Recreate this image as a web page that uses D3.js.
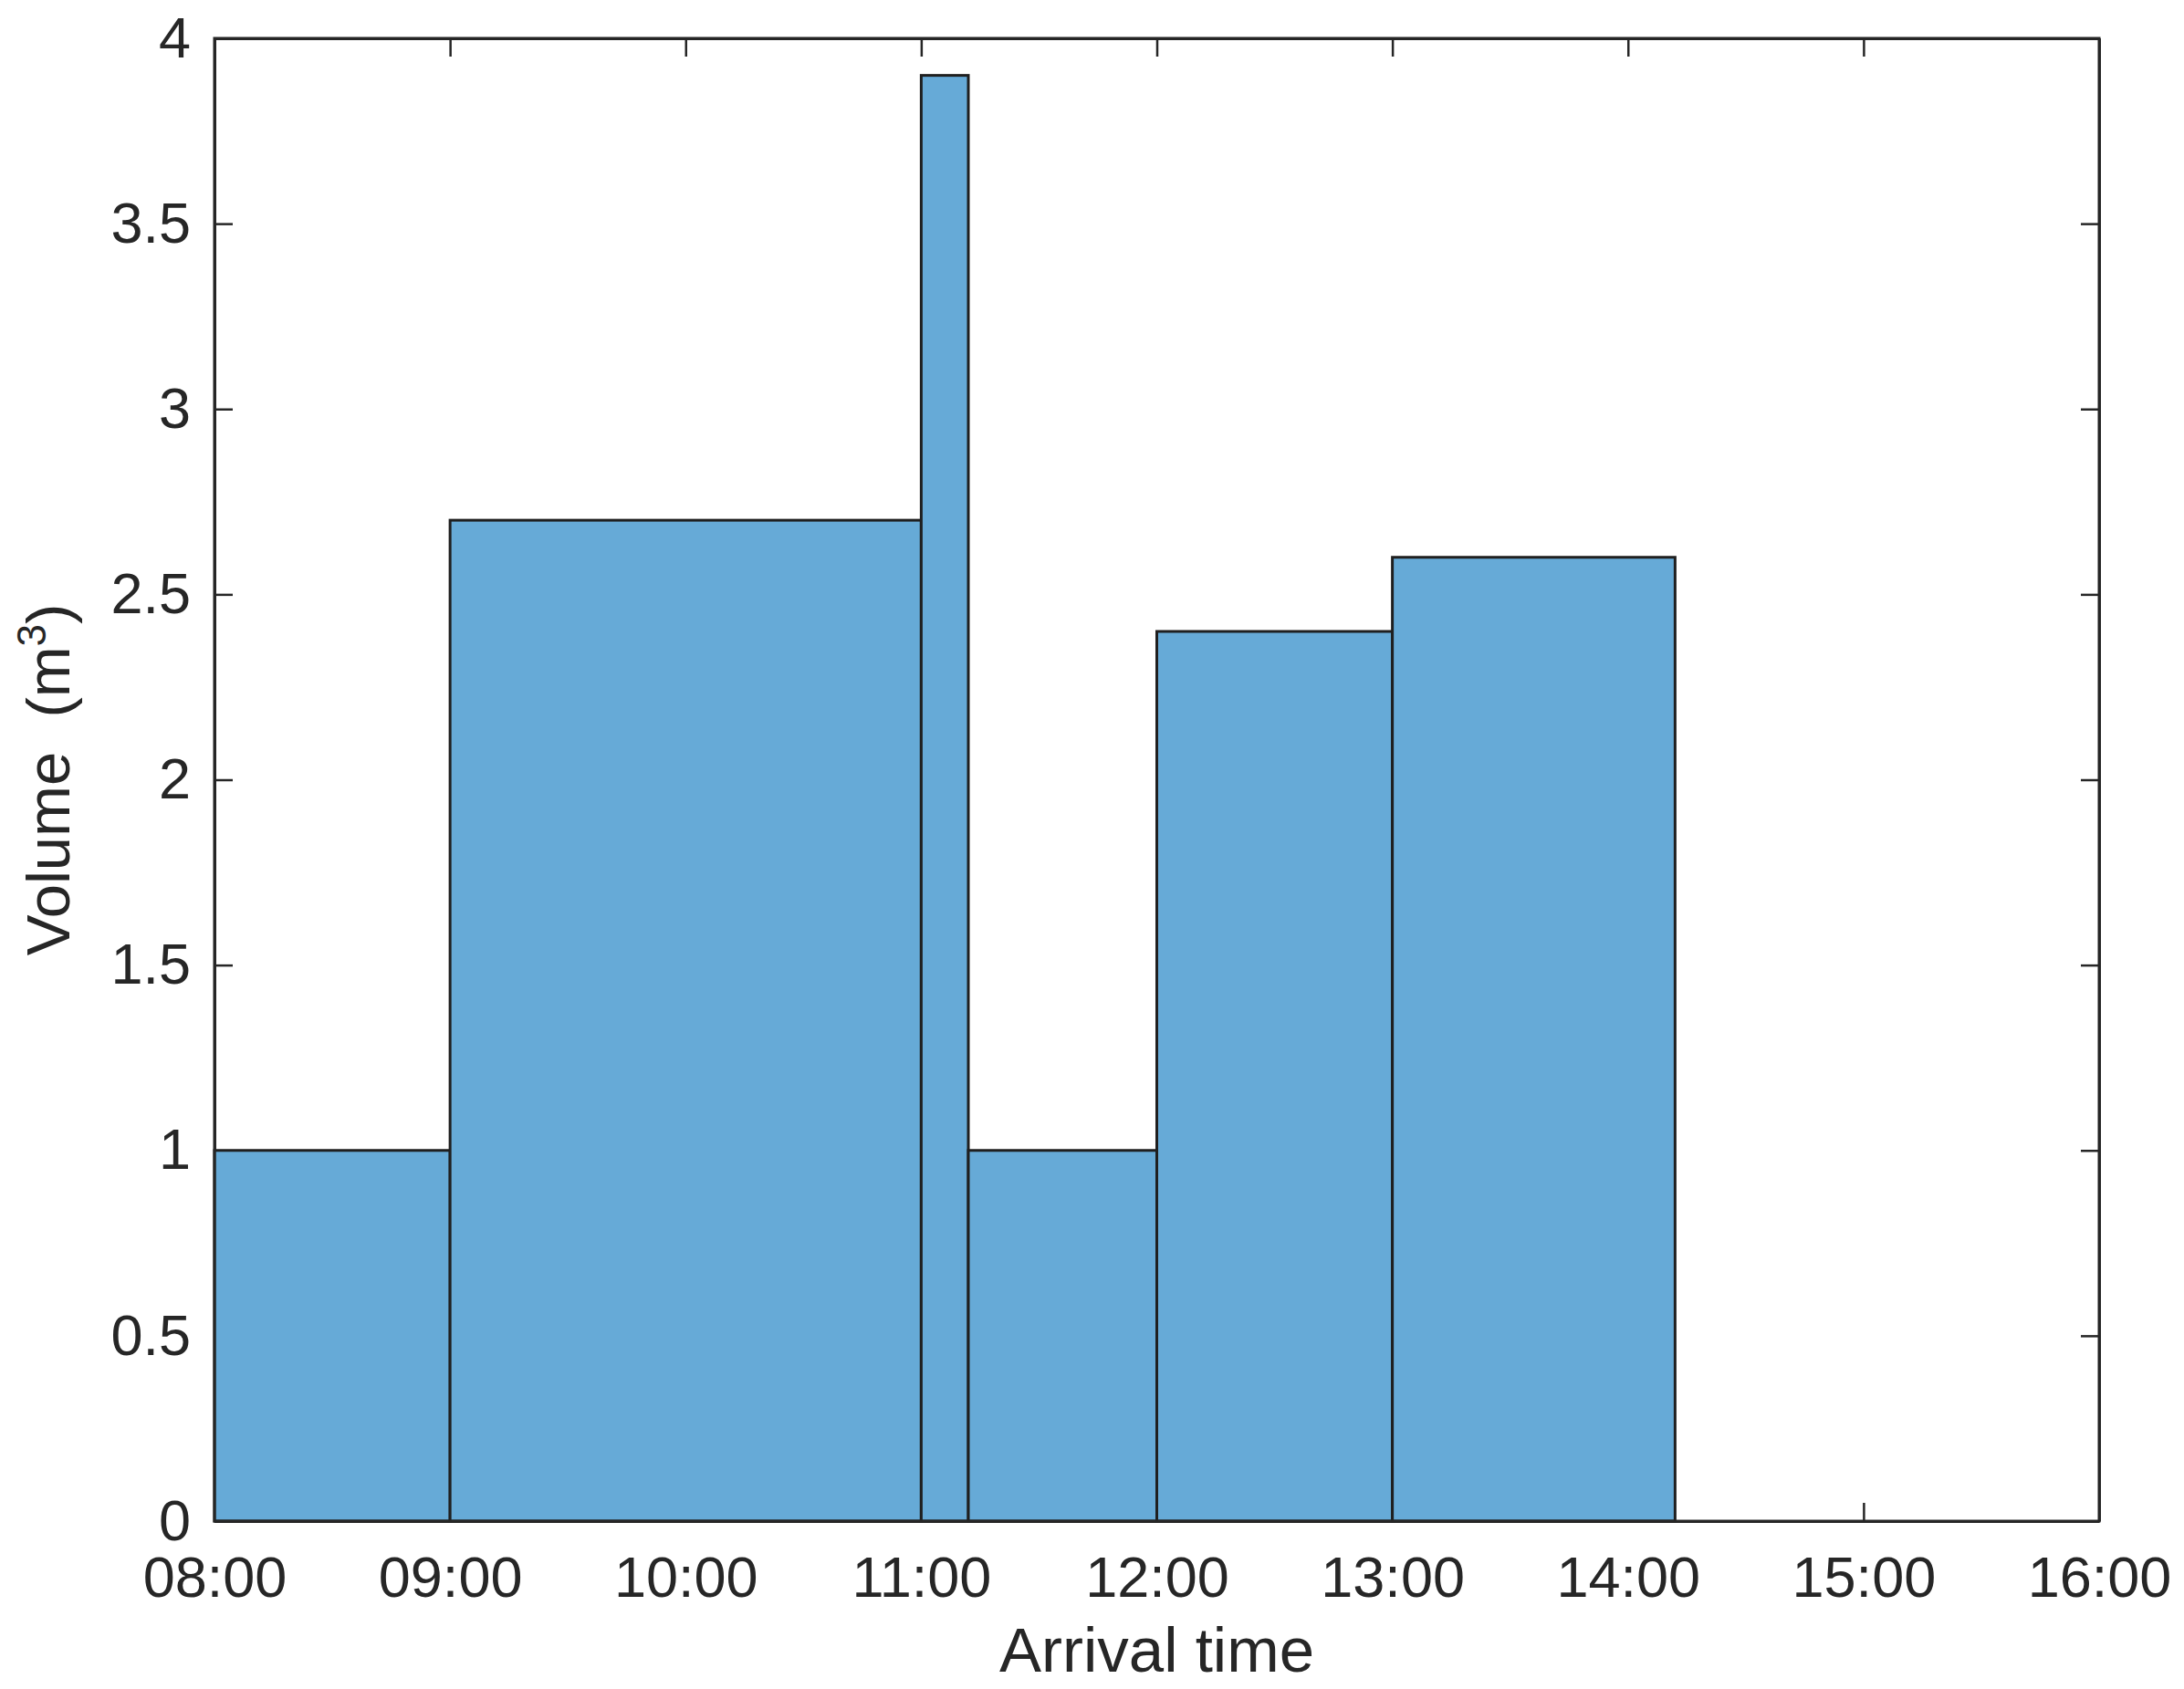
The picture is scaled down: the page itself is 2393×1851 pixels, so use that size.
<!DOCTYPE html>
<html>
<head>
<meta charset="utf-8">
<script src="https://cdn.jsdelivr.net/npm/d3@7"></script>
<style>
  html, body { margin: 0; padding: 0; background: #fff; }
  text { font-family: "Liberation Sans", Arial, Helvetica, sans-serif; fill: #262626; }
</style>
</head>
<body>
<svg id="chart" width="2393" height="1851"></svg>
<script>
// ---- data ----
const binStarts = ["08:00", "09:00", "11:00", "11:12", "12:00", "13:00"];
const binEnds   = ["09:00", "11:00", "11:12", "12:00", "13:00", "14:12"];
const volumes   = [1.0, 2.7, 3.9, 1.0, 2.4, 2.6];
const xTickLabels = ["08:00", "09:00", "10:00", "11:00", "12:00", "13:00", "14:00", "15:00", "16:00"];
const yTickValues = [0, 0.5, 1, 1.5, 2, 2.5, 3, 3.5, 4];
const xDomain = ["08:00", "16:00"];
const yDomain = [0, 4];
const xLabel = "Arrival time";
const yLabel = "Volume\u00a0\u00a0(m";

// ---- layout ----
const W = 2393, H = 1851;
const m = { left: 235, right: 2300, top: 42, bottom: 1667 };
const parse = d3.timeParse("%H:%M");
const fmt = d3.timeFormat("%H:%M");
const ink = "#262626";

const svg = d3.select("#chart");
const x = d3.scaleTime().domain(xDomain.map(parse)).range([m.left, m.right]);
const y = d3.scaleLinear().domain(yDomain).range([m.bottom, m.top]);

const bins = volumes.map((v, i) => ({ x0: parse(binStarts[i]), x1: parse(binEnds[i]), v }));
const xTicks = xTickLabels.map(parse);
const tickLen = 20;

function styleAxis(g) {
  g.selectAll("path.domain").attr("stroke", ink).attr("stroke-width", 3);
  g.selectAll(".tick line").attr("stroke", ink).attr("stroke-width", 2.5);
  g.selectAll("text").attr("font-size", 63).style("fill", ink)
    .attr("font-family", '"Liberation Sans", Arial, sans-serif');
}

const gxB = svg.append("g").attr("transform", `translate(0,${m.bottom})`)
  .call(d3.axisBottom(x).tickValues(xTicks).tickFormat(fmt).tickSizeInner(-tickLen).tickSizeOuter(0).tickPadding(38));
styleAxis(gxB);
const gxT = svg.append("g").attr("transform", `translate(0,${m.top})`)
  .call(d3.axisTop(x).tickValues(xTicks).tickFormat("").tickSizeInner(-tickLen).tickSizeOuter(0));
styleAxis(gxT);
const gyL = svg.append("g").attr("transform", `translate(${m.left},0)`)
  .call(d3.axisLeft(y).tickValues(yTickValues).tickFormat(d3.format("")).tickSizeInner(-tickLen).tickSizeOuter(0).tickPadding(26));
styleAxis(gyL);
const gyR = svg.append("g").attr("transform", `translate(${m.right},0)`)
  .call(d3.axisRight(y).tickValues(yTickValues).tickFormat("").tickSizeInner(-tickLen).tickSizeOuter(0));
styleAxis(gyR);

// bars
svg.append("g").selectAll("rect").data(bins).join("rect")
  .attr("x", d => x(d.x0))
  .attr("y", d => y(d.v))
  .attr("width", d => x(d.x1) - x(d.x0))
  .attr("height", d => y(0) - y(d.v))
  .attr("fill", "#66aad7")
  .attr("stroke", "#1f1f1f")
  .attr("stroke-width", 3);

// box outline
svg.append("rect")
  .attr("x", m.left).attr("y", m.top)
  .attr("width", m.right - m.left).attr("height", m.bottom - m.top)
  .attr("fill", "none").attr("stroke", ink).attr("stroke-width", 3);

// axis titles
svg.append("text")
  .attr("x", (m.left + m.right) / 2)
  .attr("y", 1832)
  .attr("text-anchor", "middle")
  .attr("font-size", 69)
  .text(xLabel);

const yt = svg.append("text")
  .attr("transform", `translate(${53 + 23},${(m.top + m.bottom) / 2}) rotate(-90)`)
  .attr("text-anchor", "middle")
  .attr("font-size", 67);
yt.append("tspan").text(yLabel);
yt.append("tspan").attr("font-size", 44).attr("dy", -26).text("3");
yt.append("tspan").attr("dy", 26).text(")");
</script>
</body>
</html>
